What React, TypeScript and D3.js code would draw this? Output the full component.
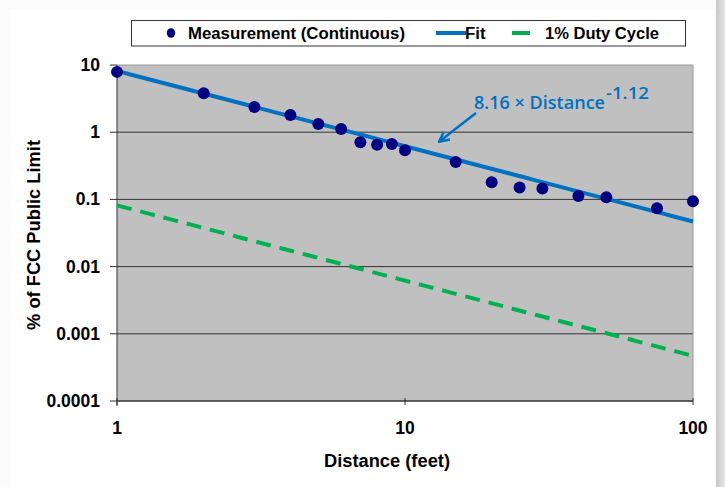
import React from "react";
import * as d3 from "d3";

const distances = [1, 2, 3, 4, 5, 6, 7, 8, 9, 10, 15, 20, 25, 30, 40, 50, 75, 100];
const measurements = [7.9, 3.8, 2.37, 1.8, 1.32, 1.12, 0.71, 0.65, 0.67, 0.54, 0.36, 0.18, 0.15, 0.145, 0.112, 0.108, 0.074, 0.094];
const fitCoef = 8.16;
const fitExp = -1.12;
const dutyFactor = 0.01;
const fitX = [1, 100];
const xTicks = [1, 10, 100];
const yTicks = [10, 1, 0.1, 0.01, 0.001, 0.0001];
const yTickLabels = ["10", "1", "0.1", "0.01", "0.001", "0.0001"];

const W = 725, H = 487;
const L = 117, R = 693, T = 65, B = 401;

export default function App() {
  const x = d3.scaleLog().domain([1, 100]).range([L, R]);
  const y = d3.scaleLog().domain([0.0001, 10]).range([B, T]);
  const fitPts: [number, number][] = d3.range(0, 101).map((i) => {
    const d = Math.pow(10, (i / 100) * Math.log10(fitX[1] / fitX[0])) * fitX[0];
    return [d, fitCoef * Math.pow(d, fitExp)];
  });
  const line = d3.line<[number, number]>().x((p) => x(p[0])).y((p) => y(p[1]));
  const dutyPts = fitPts.map((p) => [p[0], p[1] * dutyFactor] as [number, number]);
  const font = "'Liberation Sans', Arial, sans-serif";
  const fs = 17.5;

  return (
    <div style={{ position: "absolute", left: 0, top: 0, width: W, height: H, background: "#fff" }}>
      <svg width={W} height={H} style={{ display: "block" }}>
        <defs>
          <linearGradient id="shadowR" x1="0" x2="1" y1="0" y2="0">
            <stop offset="0" stopColor="#c8c8c8" />
            <stop offset="1" stopColor="#e6e6e6" />
          </linearGradient>
          <marker id="arr" viewBox="0 0 10 10" refX="8" refY="5" markerWidth="5" markerHeight="5" orient="auto">
            <path d="M1,1 L9,5 L1,9" fill="none" stroke="#0070C0" strokeWidth="2" />
          </marker>
        </defs>
        <rect x={0} y={0} width={W} height={H} fill="#fbfbfb" />
        <rect x={716} y={0} width={9} height={H} fill="url(#shadowR)" />
        <rect x={11} y={9} width={705} height={H} fill="#ffffff" />
        {/* plot area */}
        <rect x={L} y={T} width={R - L} height={B - T} fill="#C0C0C0" />
        {yTicks.map((t) => (
          <line key={t} x1={L} x2={R} y1={y(t)} y2={y(t)} stroke={t === 10 ? "#9a9a9a" : "#333"} strokeWidth={1} />
        ))}
        <line x1={R} x2={R} y1={T} y2={B} stroke="#9a9a9a" />
        <line x1={L} x2={L} y1={T} y2={B + 5} stroke="#333" />
        <line x1={L} x2={R} y1={B} y2={B} stroke="#333" />
        {yTicks.map((t, i) => (
          <g key={"yl" + t}>
            <line x1={L - 7} x2={L} y1={y(t)} y2={y(t)} stroke="#333" />
            <text x={L - 17} y={y(t) + 6} textAnchor="end" fontFamily={font} fontWeight="bold" fontSize={fs}>
              {yTickLabels[i]}
            </text>
          </g>
        ))}
        {xTicks.map((t) => (
          <g key={"xl" + t}>
            <line x1={x(t)} x2={x(t)} y1={B - 3} y2={B + 4} stroke="#333" />
            <text x={x(t)} y={B + 33} textAnchor="middle" fontFamily={font} fontWeight="bold" fontSize={fs}>
              {t}
            </text>
          </g>
        ))}
        <text x={(L + R) / 2 - 18} y={467} textAnchor="middle" fontFamily={font} fontWeight="bold" fontSize={18.3}>
          Distance (feet)
        </text>
        <text transform={`translate(40,235) rotate(-90)`} textAnchor="middle" fontFamily={font} fontWeight="bold" fontSize={18.3}>
          % of FCC Public Limit
        </text>
        {/* series */}
        <path d={line(dutyPts) || ""} fill="none" stroke="#00B050" strokeWidth={4} strokeDasharray="15 9" />
        <path d={line(fitPts) || ""} fill="none" stroke="#0070C0" strokeWidth={4} />
        {distances.map((d, i) => (
          <circle key={d} cx={x(d)} cy={y(measurements[i])} r={6} fill="#000080" />
        ))}
        {/* annotation */}
        <line x1={476} y1={113} x2={440} y2={141} stroke="#0070C0" strokeWidth={2.5} markerEnd="url(#arr)" />
        <text x={474} y={109} fontFamily="'Open Sans', 'Noto Sans', sans-serif" fontWeight={600} fontSize={18.5} fill="#0070C0" textLength={131} lengthAdjust="spacingAndGlyphs">
          8.16 × Distance
        </text>
        <text x={606} y={99} fontFamily="'Open Sans', 'Noto Sans', sans-serif" fontWeight={600} fontSize={15.5} fill="#0070C0" textLength={43} lengthAdjust="spacingAndGlyphs">
          -1.12
        </text>
        {/* legend */}
        <rect x={131.5} y={20.5} width={554} height={25.5} fill="#fff" stroke="#333" strokeWidth={1} />
        <ellipse cx={171} cy={33} rx={4.2} ry={4.8} fill="#000080" />
        <text x={188} y={39} fontFamily={font} fontWeight="bold" fontSize={16.8} textLength={217} lengthAdjust="spacingAndGlyphs">Measurement (Continuous)</text>
        <line x1={436} x2={466} y1={33} y2={33} stroke="#0070C0" strokeWidth={4} />
        <text x={465} y={39} fontFamily={font} fontWeight="bold" fontSize={16.8}>Fit</text>
        <line x1={512} x2={530} y1={33} y2={33} stroke="#00B050" strokeWidth={4} />
        <text x={545} y={39} fontFamily={font} fontWeight="bold" fontSize={16.8} textLength={114} lengthAdjust="spacingAndGlyphs">1% Duty Cycle</text>
      </svg>
    </div>
  );
}
